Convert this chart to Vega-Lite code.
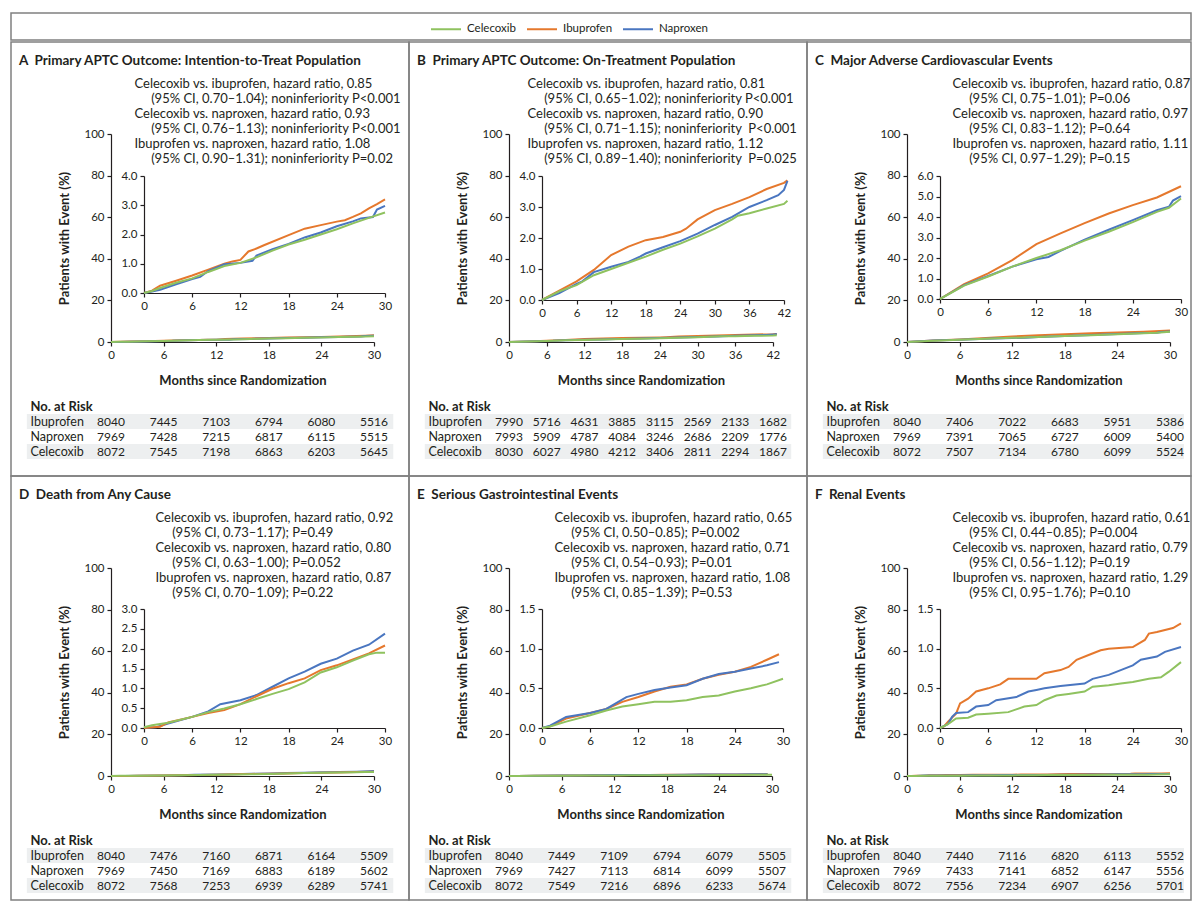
{
"$schema": "https://vega.github.io/schema/vega-lite/v6.json",
"padding": {"left": 10, "top": 12, "right": 0, "bottom": 0},
"background": "white",
"datasets": {
"curves": [
{"panel":"A","drug":"Ibuprofen","month":0,"pct":0},{"panel":"A","drug":"Ibuprofen","month":1,"pct":0.08},{"panel":"A","drug":"Ibuprofen","month":2,"pct":0.25},{"panel":"A","drug":"Ibuprofen","month":4,"pct":0.42},{"panel":"A","drug":"Ibuprofen","month":6,"pct":0.6},{"panel":"A","drug":"Ibuprofen","month":8,"pct":0.8},{"panel":"A","drug":"Ibuprofen","month":10,"pct":1.0},{"panel":"A","drug":"Ibuprofen","month":11,"pct":1.08},{"panel":"A","drug":"Ibuprofen","month":12,"pct":1.13},{"panel":"A","drug":"Ibuprofen","month":13,"pct":1.42},{"panel":"A","drug":"Ibuprofen","month":14,"pct":1.52},{"panel":"A","drug":"Ibuprofen","month":15,"pct":1.64},{"panel":"A","drug":"Ibuprofen","month":18,"pct":1.98},{"panel":"A","drug":"Ibuprofen","month":20,"pct":2.2},{"panel":"A","drug":"Ibuprofen","month":22,"pct":2.32},{"panel":"A","drug":"Ibuprofen","month":24,"pct":2.44},{"panel":"A","drug":"Ibuprofen","month":25,"pct":2.49},{"panel":"A","drug":"Ibuprofen","month":26,"pct":2.6},{"panel":"A","drug":"Ibuprofen","month":27,"pct":2.72},{"panel":"A","drug":"Ibuprofen","month":28,"pct":2.89},{"panel":"A","drug":"Ibuprofen","month":29,"pct":3.04},{"panel":"A","drug":"Ibuprofen","month":30,"pct":3.2},
{"panel":"A","drug":"Naproxen","month":0,"pct":0},{"panel":"A","drug":"Naproxen","month":1,"pct":0.05},{"panel":"A","drug":"Naproxen","month":2,"pct":0.11},{"panel":"A","drug":"Naproxen","month":4,"pct":0.3},{"panel":"A","drug":"Naproxen","month":6,"pct":0.48},{"panel":"A","drug":"Naproxen","month":7,"pct":0.55},{"panel":"A","drug":"Naproxen","month":8,"pct":0.75},{"panel":"A","drug":"Naproxen","month":10,"pct":0.98},{"panel":"A","drug":"Naproxen","month":12,"pct":1.03},{"panel":"A","drug":"Naproxen","month":13.5,"pct":1.1},{"panel":"A","drug":"Naproxen","month":14,"pct":1.28},{"panel":"A","drug":"Naproxen","month":16,"pct":1.5},{"panel":"A","drug":"Naproxen","month":18,"pct":1.68},{"panel":"A","drug":"Naproxen","month":20,"pct":1.9},{"panel":"A","drug":"Naproxen","month":22,"pct":2.07},{"panel":"A","drug":"Naproxen","month":24,"pct":2.28},{"panel":"A","drug":"Naproxen","month":26,"pct":2.45},{"panel":"A","drug":"Naproxen","month":27,"pct":2.55},{"panel":"A","drug":"Naproxen","month":28.5,"pct":2.6},{"panel":"A","drug":"Naproxen","month":29,"pct":2.85},{"panel":"A","drug":"Naproxen","month":30,"pct":2.98},
{"panel":"A","drug":"Celecoxib","month":0,"pct":0},{"panel":"A","drug":"Celecoxib","month":1,"pct":0.07},{"panel":"A","drug":"Celecoxib","month":2,"pct":0.17},{"panel":"A","drug":"Celecoxib","month":4,"pct":0.35},{"panel":"A","drug":"Celecoxib","month":6,"pct":0.5},{"panel":"A","drug":"Celecoxib","month":8,"pct":0.72},{"panel":"A","drug":"Celecoxib","month":10,"pct":0.92},{"panel":"A","drug":"Celecoxib","month":12,"pct":1.03},{"panel":"A","drug":"Celecoxib","month":14,"pct":1.22},{"panel":"A","drug":"Celecoxib","month":16,"pct":1.45},{"panel":"A","drug":"Celecoxib","month":18,"pct":1.66},{"panel":"A","drug":"Celecoxib","month":20,"pct":1.82},{"panel":"A","drug":"Celecoxib","month":22,"pct":2.0},{"panel":"A","drug":"Celecoxib","month":24,"pct":2.18},{"panel":"A","drug":"Celecoxib","month":26,"pct":2.38},{"panel":"A","drug":"Celecoxib","month":28,"pct":2.57},{"panel":"A","drug":"Celecoxib","month":30,"pct":2.75},
{"panel":"B","drug":"Ibuprofen","month":0,"pct":0},{"panel":"B","drug":"Ibuprofen","month":3,"pct":0.3},{"panel":"B","drug":"Ibuprofen","month":6,"pct":0.6},{"panel":"B","drug":"Ibuprofen","month":9,"pct":0.97},{"panel":"B","drug":"Ibuprofen","month":12,"pct":1.45},{"panel":"B","drug":"Ibuprofen","month":15,"pct":1.72},{"panel":"B","drug":"Ibuprofen","month":18,"pct":1.93},{"panel":"B","drug":"Ibuprofen","month":21,"pct":2.03},{"panel":"B","drug":"Ibuprofen","month":24,"pct":2.2},{"panel":"B","drug":"Ibuprofen","month":25,"pct":2.3},{"panel":"B","drug":"Ibuprofen","month":27,"pct":2.6},{"panel":"B","drug":"Ibuprofen","month":30,"pct":2.9},{"panel":"B","drug":"Ibuprofen","month":33,"pct":3.1},{"panel":"B","drug":"Ibuprofen","month":36,"pct":3.32},{"panel":"B","drug":"Ibuprofen","month":39,"pct":3.58},{"panel":"B","drug":"Ibuprofen","month":42,"pct":3.78},{"panel":"B","drug":"Ibuprofen","month":42.6,"pct":3.86},
{"panel":"B","drug":"Naproxen","month":0,"pct":0},{"panel":"B","drug":"Naproxen","month":3,"pct":0.22},{"panel":"B","drug":"Naproxen","month":6,"pct":0.52},{"panel":"B","drug":"Naproxen","month":7,"pct":0.6},{"panel":"B","drug":"Naproxen","month":9,"pct":0.9},{"panel":"B","drug":"Naproxen","month":12,"pct":1.07},{"panel":"B","drug":"Naproxen","month":15,"pct":1.23},{"panel":"B","drug":"Naproxen","month":17,"pct":1.4},{"panel":"B","drug":"Naproxen","month":18,"pct":1.5},{"panel":"B","drug":"Naproxen","month":21,"pct":1.7},{"panel":"B","drug":"Naproxen","month":24,"pct":1.9},{"panel":"B","drug":"Naproxen","month":27,"pct":2.14},{"panel":"B","drug":"Naproxen","month":30,"pct":2.42},{"panel":"B","drug":"Naproxen","month":33,"pct":2.68},{"panel":"B","drug":"Naproxen","month":36,"pct":3.0},{"panel":"B","drug":"Naproxen","month":39,"pct":3.22},{"panel":"B","drug":"Naproxen","month":41,"pct":3.38},{"panel":"B","drug":"Naproxen","month":42,"pct":3.55},{"panel":"B","drug":"Naproxen","month":42.6,"pct":3.84},
{"panel":"B","drug":"Celecoxib","month":0,"pct":0},{"panel":"B","drug":"Celecoxib","month":3,"pct":0.28},{"panel":"B","drug":"Celecoxib","month":6,"pct":0.48},{"panel":"B","drug":"Celecoxib","month":9,"pct":0.8},{"panel":"B","drug":"Celecoxib","month":12,"pct":1.0},{"panel":"B","drug":"Celecoxib","month":15,"pct":1.2},{"panel":"B","drug":"Celecoxib","month":18,"pct":1.4},{"panel":"B","drug":"Celecoxib","month":21,"pct":1.62},{"panel":"B","drug":"Celecoxib","month":24,"pct":1.82},{"panel":"B","drug":"Celecoxib","month":27,"pct":2.05},{"panel":"B","drug":"Celecoxib","month":30,"pct":2.3},{"panel":"B","drug":"Celecoxib","month":33,"pct":2.6},{"panel":"B","drug":"Celecoxib","month":34,"pct":2.72},{"panel":"B","drug":"Celecoxib","month":36,"pct":2.8},{"panel":"B","drug":"Celecoxib","month":39,"pct":2.95},{"panel":"B","drug":"Celecoxib","month":42,"pct":3.1},{"panel":"B","drug":"Celecoxib","month":42.6,"pct":3.2},
{"panel":"C","drug":"Ibuprofen","month":0,"pct":0},{"panel":"C","drug":"Ibuprofen","month":3,"pct":0.72},{"panel":"C","drug":"Ibuprofen","month":6,"pct":1.25},{"panel":"C","drug":"Ibuprofen","month":9,"pct":1.9},{"panel":"C","drug":"Ibuprofen","month":12,"pct":2.68},{"panel":"C","drug":"Ibuprofen","month":15,"pct":3.2},{"panel":"C","drug":"Ibuprofen","month":18,"pct":3.7},{"panel":"C","drug":"Ibuprofen","month":21,"pct":4.17},{"panel":"C","drug":"Ibuprofen","month":24,"pct":4.58},{"panel":"C","drug":"Ibuprofen","month":27,"pct":4.95},{"panel":"C","drug":"Ibuprofen","month":30,"pct":5.5},
{"panel":"C","drug":"Naproxen","month":0,"pct":0},{"panel":"C","drug":"Naproxen","month":3,"pct":0.68},{"panel":"C","drug":"Naproxen","month":6,"pct":1.12},{"panel":"C","drug":"Naproxen","month":9,"pct":1.58},{"panel":"C","drug":"Naproxen","month":12,"pct":1.94},{"panel":"C","drug":"Naproxen","month":13.5,"pct":2.05},{"panel":"C","drug":"Naproxen","month":15,"pct":2.35},{"panel":"C","drug":"Naproxen","month":18,"pct":2.9},{"panel":"C","drug":"Naproxen","month":21,"pct":3.38},{"panel":"C","drug":"Naproxen","month":24,"pct":3.85},{"panel":"C","drug":"Naproxen","month":27,"pct":4.33},{"panel":"C","drug":"Naproxen","month":28.5,"pct":4.5},{"panel":"C","drug":"Naproxen","month":29,"pct":4.8},{"panel":"C","drug":"Naproxen","month":30,"pct":5.02},
{"panel":"C","drug":"Celecoxib","month":0,"pct":0},{"panel":"C","drug":"Celecoxib","month":3,"pct":0.65},{"panel":"C","drug":"Celecoxib","month":6,"pct":1.1},{"panel":"C","drug":"Celecoxib","month":9,"pct":1.58},{"panel":"C","drug":"Celecoxib","month":12,"pct":2.0},{"panel":"C","drug":"Celecoxib","month":15,"pct":2.38},{"panel":"C","drug":"Celecoxib","month":18,"pct":2.85},{"panel":"C","drug":"Celecoxib","month":21,"pct":3.28},{"panel":"C","drug":"Celecoxib","month":24,"pct":3.75},{"panel":"C","drug":"Celecoxib","month":27,"pct":4.25},{"panel":"C","drug":"Celecoxib","month":28.5,"pct":4.45},{"panel":"C","drug":"Celecoxib","month":30,"pct":4.9},
{"panel":"D","drug":"Naproxen","month":0,"pct":0},{"panel":"D","drug":"Naproxen","month":1.5,"pct":0.02},{"panel":"D","drug":"Naproxen","month":3,"pct":0.11},{"panel":"D","drug":"Naproxen","month":6,"pct":0.28},{"panel":"D","drug":"Naproxen","month":8,"pct":0.42},{"panel":"D","drug":"Naproxen","month":9.5,"pct":0.6},{"panel":"D","drug":"Naproxen","month":12,"pct":0.7},{"panel":"D","drug":"Naproxen","month":14,"pct":0.83},{"panel":"D","drug":"Naproxen","month":16,"pct":1.04},{"panel":"D","drug":"Naproxen","month":18,"pct":1.25},{"panel":"D","drug":"Naproxen","month":20,"pct":1.42},{"panel":"D","drug":"Naproxen","month":22,"pct":1.62},{"panel":"D","drug":"Naproxen","month":24,"pct":1.75},{"panel":"D","drug":"Naproxen","month":26,"pct":1.95},{"panel":"D","drug":"Naproxen","month":28,"pct":2.1},{"panel":"D","drug":"Naproxen","month":30,"pct":2.38},
{"panel":"D","drug":"Ibuprofen","month":0,"pct":0},{"panel":"D","drug":"Ibuprofen","month":2,"pct":0.03},{"panel":"D","drug":"Ibuprofen","month":3,"pct":0.14},{"panel":"D","drug":"Ibuprofen","month":6,"pct":0.28},{"panel":"D","drug":"Ibuprofen","month":8,"pct":0.38},{"panel":"D","drug":"Ibuprofen","month":10,"pct":0.45},{"panel":"D","drug":"Ibuprofen","month":12,"pct":0.6},{"panel":"D","drug":"Ibuprofen","month":14,"pct":0.8},{"panel":"D","drug":"Ibuprofen","month":16,"pct":0.99},{"panel":"D","drug":"Ibuprofen","month":18,"pct":1.13},{"panel":"D","drug":"Ibuprofen","month":20,"pct":1.25},{"panel":"D","drug":"Ibuprofen","month":22,"pct":1.46},{"panel":"D","drug":"Ibuprofen","month":24,"pct":1.58},{"panel":"D","drug":"Ibuprofen","month":26,"pct":1.73},{"panel":"D","drug":"Ibuprofen","month":28,"pct":1.88},{"panel":"D","drug":"Ibuprofen","month":30,"pct":2.08},
{"panel":"D","drug":"Celecoxib","month":0,"pct":0.02},{"panel":"D","drug":"Celecoxib","month":1,"pct":0.07},{"panel":"D","drug":"Celecoxib","month":3,"pct":0.13},{"panel":"D","drug":"Celecoxib","month":6,"pct":0.28},{"panel":"D","drug":"Celecoxib","month":8,"pct":0.4},{"panel":"D","drug":"Celecoxib","month":10,"pct":0.49},{"panel":"D","drug":"Celecoxib","month":12,"pct":0.6},{"panel":"D","drug":"Celecoxib","month":14,"pct":0.73},{"panel":"D","drug":"Celecoxib","month":16,"pct":0.86},{"panel":"D","drug":"Celecoxib","month":18,"pct":0.98},{"panel":"D","drug":"Celecoxib","month":20,"pct":1.15},{"panel":"D","drug":"Celecoxib","month":22,"pct":1.4},{"panel":"D","drug":"Celecoxib","month":24,"pct":1.53},{"panel":"D","drug":"Celecoxib","month":26,"pct":1.7},{"panel":"D","drug":"Celecoxib","month":28,"pct":1.86},{"panel":"D","drug":"Celecoxib","month":29,"pct":1.9},{"panel":"D","drug":"Celecoxib","month":30,"pct":1.9},
{"panel":"E","drug":"Ibuprofen","month":0,"pct":0},{"panel":"E","drug":"Ibuprofen","month":1,"pct":0.02},{"panel":"E","drug":"Ibuprofen","month":3,"pct":0.12},{"panel":"E","drug":"Ibuprofen","month":6,"pct":0.19},{"panel":"E","drug":"Ibuprofen","month":8,"pct":0.24},{"panel":"E","drug":"Ibuprofen","month":10,"pct":0.33},{"panel":"E","drug":"Ibuprofen","month":12,"pct":0.39},{"panel":"E","drug":"Ibuprofen","month":14,"pct":0.46},{"panel":"E","drug":"Ibuprofen","month":16,"pct":0.52},{"panel":"E","drug":"Ibuprofen","month":18,"pct":0.55},{"panel":"E","drug":"Ibuprofen","month":20,"pct":0.62},{"panel":"E","drug":"Ibuprofen","month":22,"pct":0.67},{"panel":"E","drug":"Ibuprofen","month":24,"pct":0.71},{"panel":"E","drug":"Ibuprofen","month":26,"pct":0.77},{"panel":"E","drug":"Ibuprofen","month":28,"pct":0.86},{"panel":"E","drug":"Ibuprofen","month":29.5,"pct":0.93},
{"panel":"E","drug":"Naproxen","month":0,"pct":0},{"panel":"E","drug":"Naproxen","month":1,"pct":0.03},{"panel":"E","drug":"Naproxen","month":3,"pct":0.14},{"panel":"E","drug":"Naproxen","month":6,"pct":0.19},{"panel":"E","drug":"Naproxen","month":8,"pct":0.24},{"panel":"E","drug":"Naproxen","month":9.5,"pct":0.33},{"panel":"E","drug":"Naproxen","month":10.5,"pct":0.39},{"panel":"E","drug":"Naproxen","month":12,"pct":0.43},{"panel":"E","drug":"Naproxen","month":14,"pct":0.48},{"panel":"E","drug":"Naproxen","month":16,"pct":0.51},{"panel":"E","drug":"Naproxen","month":18,"pct":0.54},{"panel":"E","drug":"Naproxen","month":20,"pct":0.62},{"panel":"E","drug":"Naproxen","month":22,"pct":0.68},{"panel":"E","drug":"Naproxen","month":24,"pct":0.71},{"panel":"E","drug":"Naproxen","month":26,"pct":0.75},{"panel":"E","drug":"Naproxen","month":28,"pct":0.79},{"panel":"E","drug":"Naproxen","month":29.5,"pct":0.83},
{"panel":"E","drug":"Celecoxib","month":0,"pct":0},{"panel":"E","drug":"Celecoxib","month":1,"pct":0.02},{"panel":"E","drug":"Celecoxib","month":3,"pct":0.08},{"panel":"E","drug":"Celecoxib","month":6,"pct":0.16},{"panel":"E","drug":"Celecoxib","month":8,"pct":0.22},{"panel":"E","drug":"Celecoxib","month":10,"pct":0.27},{"panel":"E","drug":"Celecoxib","month":12,"pct":0.3},{"panel":"E","drug":"Celecoxib","month":14,"pct":0.33},{"panel":"E","drug":"Celecoxib","month":16,"pct":0.33},{"panel":"E","drug":"Celecoxib","month":18,"pct":0.35},{"panel":"E","drug":"Celecoxib","month":20,"pct":0.39},{"panel":"E","drug":"Celecoxib","month":22,"pct":0.41},{"panel":"E","drug":"Celecoxib","month":24,"pct":0.46},{"panel":"E","drug":"Celecoxib","month":26,"pct":0.5},{"panel":"E","drug":"Celecoxib","month":28,"pct":0.55},{"panel":"E","drug":"Celecoxib","month":30,"pct":0.62},
{"panel":"F","drug":"Ibuprofen","month":0,"pct":0},{"panel":"F","drug":"Ibuprofen","month":0.5,"pct":0.02},{"panel":"F","drug":"Ibuprofen","month":1,"pct":0.08},{"panel":"F","drug":"Ibuprofen","month":2,"pct":0.18},{"panel":"F","drug":"Ibuprofen","month":2.5,"pct":0.31},{"panel":"F","drug":"Ibuprofen","month":3.5,"pct":0.37},{"panel":"F","drug":"Ibuprofen","month":4.5,"pct":0.46},{"panel":"F","drug":"Ibuprofen","month":6,"pct":0.5},{"panel":"F","drug":"Ibuprofen","month":7.5,"pct":0.55},{"panel":"F","drug":"Ibuprofen","month":8.5,"pct":0.62},{"panel":"F","drug":"Ibuprofen","month":12,"pct":0.62},{"panel":"F","drug":"Ibuprofen","month":13,"pct":0.69},{"panel":"F","drug":"Ibuprofen","month":15,"pct":0.73},{"panel":"F","drug":"Ibuprofen","month":16,"pct":0.77},{"panel":"F","drug":"Ibuprofen","month":17,"pct":0.86},{"panel":"F","drug":"Ibuprofen","month":18.5,"pct":0.92},{"panel":"F","drug":"Ibuprofen","month":20,"pct":0.98},{"panel":"F","drug":"Ibuprofen","month":21,"pct":1.0},{"panel":"F","drug":"Ibuprofen","month":24,"pct":1.02},{"panel":"F","drug":"Ibuprofen","month":25.5,"pct":1.11},{"panel":"F","drug":"Ibuprofen","month":26,"pct":1.19},{"panel":"F","drug":"Ibuprofen","month":27,"pct":1.21},{"panel":"F","drug":"Ibuprofen","month":29,"pct":1.26},{"panel":"F","drug":"Ibuprofen","month":30,"pct":1.32},
{"panel":"F","drug":"Naproxen","month":0,"pct":0},{"panel":"F","drug":"Naproxen","month":1,"pct":0.05},{"panel":"F","drug":"Naproxen","month":1.5,"pct":0.14},{"panel":"F","drug":"Naproxen","month":2,"pct":0.19},{"panel":"F","drug":"Naproxen","month":3.5,"pct":0.2},{"panel":"F","drug":"Naproxen","month":4.5,"pct":0.27},{"panel":"F","drug":"Naproxen","month":6,"pct":0.29},{"panel":"F","drug":"Naproxen","month":7,"pct":0.35},{"panel":"F","drug":"Naproxen","month":9.5,"pct":0.39},{"panel":"F","drug":"Naproxen","month":11,"pct":0.46},{"panel":"F","drug":"Naproxen","month":12,"pct":0.48},{"panel":"F","drug":"Naproxen","month":13,"pct":0.5},{"panel":"F","drug":"Naproxen","month":15,"pct":0.53},{"panel":"F","drug":"Naproxen","month":18,"pct":0.56},{"panel":"F","drug":"Naproxen","month":19,"pct":0.62},{"panel":"F","drug":"Naproxen","month":21,"pct":0.67},{"panel":"F","drug":"Naproxen","month":22.5,"pct":0.73},{"panel":"F","drug":"Naproxen","month":24,"pct":0.79},{"panel":"F","drug":"Naproxen","month":25,"pct":0.86},{"panel":"F","drug":"Naproxen","month":27,"pct":0.9},{"panel":"F","drug":"Naproxen","month":28,"pct":0.96},{"panel":"F","drug":"Naproxen","month":30,"pct":1.02},
{"panel":"F","drug":"Celecoxib","month":0,"pct":0},{"panel":"F","drug":"Celecoxib","month":1,"pct":0.05},{"panel":"F","drug":"Celecoxib","month":2,"pct":0.12},{"panel":"F","drug":"Celecoxib","month":3.5,"pct":0.13},{"panel":"F","drug":"Celecoxib","month":4.5,"pct":0.17},{"panel":"F","drug":"Celecoxib","month":6,"pct":0.18},{"panel":"F","drug":"Celecoxib","month":8.5,"pct":0.2},{"panel":"F","drug":"Celecoxib","month":10.5,"pct":0.27},{"panel":"F","drug":"Celecoxib","month":12,"pct":0.29},{"panel":"F","drug":"Celecoxib","month":13,"pct":0.35},{"panel":"F","drug":"Celecoxib","month":14.5,"pct":0.41},{"panel":"F","drug":"Celecoxib","month":16,"pct":0.43},{"panel":"F","drug":"Celecoxib","month":18,"pct":0.46},{"panel":"F","drug":"Celecoxib","month":19,"pct":0.52},{"panel":"F","drug":"Celecoxib","month":21,"pct":0.54},{"panel":"F","drug":"Celecoxib","month":22.5,"pct":0.56},{"panel":"F","drug":"Celecoxib","month":24,"pct":0.58},{"panel":"F","drug":"Celecoxib","month":26,"pct":0.62},{"panel":"F","drug":"Celecoxib","month":27.5,"pct":0.64},{"panel":"F","drug":"Celecoxib","month":28.5,"pct":0.71},{"panel":"F","drug":"Celecoxib","month":30,"pct":0.83}
],
"risk": [
{"panel":"A","drug":"Ibuprofen","month":0,"n":8040},{"panel":"A","drug":"Ibuprofen","month":6,"n":7445},{"panel":"A","drug":"Ibuprofen","month":12,"n":7103},{"panel":"A","drug":"Ibuprofen","month":18,"n":6794},{"panel":"A","drug":"Ibuprofen","month":24,"n":6080},{"panel":"A","drug":"Ibuprofen","month":30,"n":5516},
{"panel":"A","drug":"Naproxen","month":0,"n":7969},{"panel":"A","drug":"Naproxen","month":6,"n":7428},{"panel":"A","drug":"Naproxen","month":12,"n":7215},{"panel":"A","drug":"Naproxen","month":18,"n":6817},{"panel":"A","drug":"Naproxen","month":24,"n":6115},{"panel":"A","drug":"Naproxen","month":30,"n":5515},
{"panel":"A","drug":"Celecoxib","month":0,"n":8072},{"panel":"A","drug":"Celecoxib","month":6,"n":7545},{"panel":"A","drug":"Celecoxib","month":12,"n":7198},{"panel":"A","drug":"Celecoxib","month":18,"n":6863},{"panel":"A","drug":"Celecoxib","month":24,"n":6203},{"panel":"A","drug":"Celecoxib","month":30,"n":5645},
{"panel":"B","drug":"Ibuprofen","month":0,"n":7990},{"panel":"B","drug":"Ibuprofen","month":6,"n":5716},{"panel":"B","drug":"Ibuprofen","month":12,"n":4631},{"panel":"B","drug":"Ibuprofen","month":18,"n":3885},{"panel":"B","drug":"Ibuprofen","month":24,"n":3115},{"panel":"B","drug":"Ibuprofen","month":30,"n":2569},{"panel":"B","drug":"Ibuprofen","month":36,"n":2133},{"panel":"B","drug":"Ibuprofen","month":42,"n":1682},
{"panel":"B","drug":"Naproxen","month":0,"n":7993},{"panel":"B","drug":"Naproxen","month":6,"n":5909},{"panel":"B","drug":"Naproxen","month":12,"n":4787},{"panel":"B","drug":"Naproxen","month":18,"n":4084},{"panel":"B","drug":"Naproxen","month":24,"n":3246},{"panel":"B","drug":"Naproxen","month":30,"n":2686},{"panel":"B","drug":"Naproxen","month":36,"n":2209},{"panel":"B","drug":"Naproxen","month":42,"n":1776},
{"panel":"B","drug":"Celecoxib","month":0,"n":8030},{"panel":"B","drug":"Celecoxib","month":6,"n":6027},{"panel":"B","drug":"Celecoxib","month":12,"n":4980},{"panel":"B","drug":"Celecoxib","month":18,"n":4212},{"panel":"B","drug":"Celecoxib","month":24,"n":3406},{"panel":"B","drug":"Celecoxib","month":30,"n":2811},{"panel":"B","drug":"Celecoxib","month":36,"n":2294},{"panel":"B","drug":"Celecoxib","month":42,"n":1867},
{"panel":"C","drug":"Ibuprofen","month":0,"n":8040},{"panel":"C","drug":"Ibuprofen","month":6,"n":7406},{"panel":"C","drug":"Ibuprofen","month":12,"n":7022},{"panel":"C","drug":"Ibuprofen","month":18,"n":6683},{"panel":"C","drug":"Ibuprofen","month":24,"n":5951},{"panel":"C","drug":"Ibuprofen","month":30,"n":5386},
{"panel":"C","drug":"Naproxen","month":0,"n":7969},{"panel":"C","drug":"Naproxen","month":6,"n":7391},{"panel":"C","drug":"Naproxen","month":12,"n":7065},{"panel":"C","drug":"Naproxen","month":18,"n":6727},{"panel":"C","drug":"Naproxen","month":24,"n":6009},{"panel":"C","drug":"Naproxen","month":30,"n":5400},
{"panel":"C","drug":"Celecoxib","month":0,"n":8072},{"panel":"C","drug":"Celecoxib","month":6,"n":7507},{"panel":"C","drug":"Celecoxib","month":12,"n":7134},{"panel":"C","drug":"Celecoxib","month":18,"n":6780},{"panel":"C","drug":"Celecoxib","month":24,"n":6099},{"panel":"C","drug":"Celecoxib","month":30,"n":5524},
{"panel":"D","drug":"Ibuprofen","month":0,"n":8040},{"panel":"D","drug":"Ibuprofen","month":6,"n":7476},{"panel":"D","drug":"Ibuprofen","month":12,"n":7160},{"panel":"D","drug":"Ibuprofen","month":18,"n":6871},{"panel":"D","drug":"Ibuprofen","month":24,"n":6164},{"panel":"D","drug":"Ibuprofen","month":30,"n":5509},
{"panel":"D","drug":"Naproxen","month":0,"n":7969},{"panel":"D","drug":"Naproxen","month":6,"n":7450},{"panel":"D","drug":"Naproxen","month":12,"n":7169},{"panel":"D","drug":"Naproxen","month":18,"n":6883},{"panel":"D","drug":"Naproxen","month":24,"n":6189},{"panel":"D","drug":"Naproxen","month":30,"n":5602},
{"panel":"D","drug":"Celecoxib","month":0,"n":8072},{"panel":"D","drug":"Celecoxib","month":6,"n":7568},{"panel":"D","drug":"Celecoxib","month":12,"n":7253},{"panel":"D","drug":"Celecoxib","month":18,"n":6939},{"panel":"D","drug":"Celecoxib","month":24,"n":6289},{"panel":"D","drug":"Celecoxib","month":30,"n":5741},
{"panel":"E","drug":"Ibuprofen","month":0,"n":8040},{"panel":"E","drug":"Ibuprofen","month":6,"n":7449},{"panel":"E","drug":"Ibuprofen","month":12,"n":7109},{"panel":"E","drug":"Ibuprofen","month":18,"n":6794},{"panel":"E","drug":"Ibuprofen","month":24,"n":6079},{"panel":"E","drug":"Ibuprofen","month":30,"n":5505},
{"panel":"E","drug":"Naproxen","month":0,"n":7969},{"panel":"E","drug":"Naproxen","month":6,"n":7427},{"panel":"E","drug":"Naproxen","month":12,"n":7113},{"panel":"E","drug":"Naproxen","month":18,"n":6814},{"panel":"E","drug":"Naproxen","month":24,"n":6099},{"panel":"E","drug":"Naproxen","month":30,"n":5507},
{"panel":"E","drug":"Celecoxib","month":0,"n":8072},{"panel":"E","drug":"Celecoxib","month":6,"n":7549},{"panel":"E","drug":"Celecoxib","month":12,"n":7216},{"panel":"E","drug":"Celecoxib","month":18,"n":6896},{"panel":"E","drug":"Celecoxib","month":24,"n":6233},{"panel":"E","drug":"Celecoxib","month":30,"n":5674},
{"panel":"F","drug":"Ibuprofen","month":0,"n":8040},{"panel":"F","drug":"Ibuprofen","month":6,"n":7440},{"panel":"F","drug":"Ibuprofen","month":12,"n":7116},{"panel":"F","drug":"Ibuprofen","month":18,"n":6820},{"panel":"F","drug":"Ibuprofen","month":24,"n":6113},{"panel":"F","drug":"Ibuprofen","month":30,"n":5552},
{"panel":"F","drug":"Naproxen","month":0,"n":7969},{"panel":"F","drug":"Naproxen","month":6,"n":7433},{"panel":"F","drug":"Naproxen","month":12,"n":7141},{"panel":"F","drug":"Naproxen","month":18,"n":6852},{"panel":"F","drug":"Naproxen","month":24,"n":6147},{"panel":"F","drug":"Naproxen","month":30,"n":5556},
{"panel":"F","drug":"Celecoxib","month":0,"n":8072},{"panel":"F","drug":"Celecoxib","month":6,"n":7556},{"panel":"F","drug":"Celecoxib","month":12,"n":7234},{"panel":"F","drug":"Celecoxib","month":18,"n":6907},{"panel":"F","drug":"Celecoxib","month":24,"n":6256},{"panel":"F","drug":"Celecoxib","month":30,"n":5701}
]
},
"spacing": 0,
"vconcat": [
{"width": 1180, "height": 27, "data": {"values": [{"t": ""}]}, "mark": {"type": "rect", "fill": "white", "stroke": "#808080", "strokeWidth": 1.5}},
{"columns": 3, "spacing": 0, "bounds": "flush", "concat": [
{"width": 398, "height": 434,
 "title": {"text": "A\u00a0\u00a0Primary APTC Outcome: Intention-to-Treat Population"},
 "layer": [
  {"data": {"name": "curves"}, "transform": [{"filter": "datum.panel === 'A'"}], "mark": {"type": "line"},
   "encoding": {
    "x": {"field": "month", "type": "quantitative", "scale": {"domain": [0, 30], "range": [100, 363], "nice": false}, "axis": {"orient": "bottom", "offset": -134, "values": [0, 6, 12, 18, 24, 30], "title": "Months since Randomization", "titleFontSize": 13, "titlePadding": 14}},
    "y": {"field": "pct", "type": "quantitative", "scale": {"domain": [0, 100], "range": [300, 92], "nice": false}, "axis": {"orient": "left", "offset": -100, "values": [0, 20, 40, 60, 80, 100], "title": "Patients with Event (%)", "titleFontSize": 13, "titlePadding": 12}},
    "color": {"field": "drug", "type": "nominal", "scale": {"domain": ["Celecoxib", "Ibuprofen", "Naproxen"], "range": ["#8fc25f", "#e5782d", "#4a76c0"]}, "legend": {"orient": "none", "legendX": 419, "legendY": 0, "direction": "horizontal", "title": null}}}},
  {"data": {"name": "curves"}, "transform": [{"filter": "datum.panel === 'A'"}], "mark": {"type": "line"},
   "encoding": {
    "x": {"field": "month", "type": "quantitative", "scale": {"domain": [0, 30], "range": [133, 374], "nice": false}, "axis": {"orient": "bottom", "offset": -183, "values": [0, 6, 12, 18, 24, 30], "title": null}},
    "y": {"field": "pct", "type": "quantitative", "scale": {"domain": [0, 4], "range": [251, 134], "nice": false}, "axis": {"orient": "left", "offset": -133, "values": [0, 1, 2, 3, 4], "format": ".1f",
      "title": ["Celecoxib vs. ibuprofen, hazard ratio, 0.85", "\u200b\u00a0\u00a0\u00a0\u00a0\u00a0(95% CI, 0.70–1.04); noninferiority P<0.001", "Celecoxib vs. naproxen, hazard ratio, 0.93", "\u200b\u00a0\u00a0\u00a0\u00a0\u00a0(95% CI, 0.76–1.13); noninferiority P<0.001", "Ibuprofen vs. naproxen, hazard ratio, 1.08", "\u200b\u00a0\u00a0\u00a0\u00a0\u00a0(95% CI, 0.90–1.31); noninferiority P=0.02"],
      "titleX": -10, "titleY": 45, "titleAngle": 0, "titleAlign": "left", "titleBaseline": "alphabetic", "titleFontWeight": "normal", "titleFontSize": 13, "titleLineHeight": 15, "titleLimit": 1000}},
    "color": {"field": "drug", "type": "nominal", "scale": {"domain": ["Celecoxib", "Ibuprofen", "Naproxen"], "range": ["#8fc25f", "#e5782d", "#4a76c0"]}, "legend": {"orient": "none", "legendX": 419, "legendY": 0, "direction": "horizontal", "title": null}}}},
  {"data": {"name": "risk"}, "transform": [{"filter": "datum.panel === 'A'"}],
   "encoding": {"y": {"field": "drug", "type": "nominal", "scale": {"type": "band", "domain": ["No. at Risk", "Ibuprofen", "Naproxen", "Celecoxib"], "range": [357, 417], "paddingInner": 0, "paddingOuter": 0}, "axis": {"orient": "left", "offset": -100, "ticks": false, "tickSize": 0, "domain": false, "labelAlign": "left", "labelPadding": 81, "labelFontSize": {"condition": {"test": "datum.value === 'No. at Risk'", "value": 13}, "value": 12.5}, "labelFontWeight": {"condition": {"test": "datum.value === 'No. at Risk'", "value": "bold"}, "value": "normal"}, "title": null}}},
   "layer": [
    {"transform": [{"filter": "datum.drug === 'Ibuprofen' || datum.drug === 'Celecoxib'"}, {"aggregate": [{"op": "count", "as": "k"}], "groupby": ["drug"]}], "mark": {"type": "rect", "color": "#edeff0"}, "encoding": {"x": {"datum": -9.6, "type": "quantitative", "axis": null}, "x2": {"datum": 32.2}}},
    {"mark": {"type": "text", "fontSize": 12}, "encoding": {"x": {"field": "month", "type": "quantitative", "scale": {"domain": [0, 30], "range": [100, 363], "nice": false}, "axis": null}, "text": {"field": "n"}}}
   ]}
 ],
 "resolve": {"scale": {"x": "independent", "y": "independent"}}},
{"width": 398, "height": 434,
 "title": {"text": "B\u00a0\u00a0Primary APTC Outcome: On-Treatment Population"},
 "layer": [
  {"data": {"name": "curves"}, "transform": [{"filter": "datum.panel === 'B'"}], "mark": {"type": "line"},
   "encoding": {
    "x": {"field": "month", "type": "quantitative", "scale": {"domain": [0, 42], "range": [100, 364], "nice": false}, "axis": {"orient": "bottom", "offset": -134, "values": [0, 6, 12, 18, 24, 30, 36, 42], "title": "Months since Randomization", "titleFontSize": 13, "titlePadding": 14}},
    "y": {"field": "pct", "type": "quantitative", "scale": {"domain": [0, 100], "range": [300, 92], "nice": false}, "axis": {"orient": "left", "offset": -100, "values": [0, 20, 40, 60, 80, 100], "title": "Patients with Event (%)", "titleFontSize": 13, "titlePadding": 12}},
    "color": {"field": "drug", "type": "nominal", "scale": {"domain": ["Celecoxib", "Ibuprofen", "Naproxen"], "range": ["#8fc25f", "#e5782d", "#4a76c0"]}, "legend": {"orient": "none", "legendX": 419, "legendY": 0, "direction": "horizontal", "title": null}}}},
  {"data": {"name": "curves"}, "transform": [{"filter": "datum.panel === 'B'"}], "mark": {"type": "line"},
   "encoding": {
    "x": {"field": "month", "type": "quantitative", "scale": {"domain": [0, 42], "range": [133, 375], "nice": false}, "axis": {"orient": "bottom", "offset": -176, "values": [0, 6, 12, 18, 24, 30, 36, 42], "title": null}},
    "y": {"field": "pct", "type": "quantitative", "scale": {"domain": [0, 4], "range": [258, 134], "nice": false}, "axis": {"orient": "left", "offset": -133, "values": [0, 1, 2, 3, 4], "format": ".1f",
      "title": ["Celecoxib vs. ibuprofen, hazard ratio, 0.81", "\u200b\u00a0\u00a0\u00a0\u00a0\u00a0(95% CI, 0.65–1.02); noninferiority P<0.001", "Celecoxib vs. naproxen, hazard ratio, 0.90", "\u200b\u00a0\u00a0\u00a0\u00a0\u00a0(95% CI, 0.71–1.15); noninferiority\u00a0\u00a0P<0.001", "Ibuprofen vs. naproxen, hazard ratio, 1.12", "\u200b\u00a0\u00a0\u00a0\u00a0\u00a0(95% CI, 0.89–1.40); noninferiority\u00a0\u00a0P=0.025"],
      "titleX": -15, "titleY": 45, "titleAngle": 0, "titleAlign": "left", "titleBaseline": "alphabetic", "titleFontWeight": "normal", "titleFontSize": 13, "titleLineHeight": 15, "titleLimit": 1000}},
    "color": {"field": "drug", "type": "nominal", "scale": {"domain": ["Celecoxib", "Ibuprofen", "Naproxen"], "range": ["#8fc25f", "#e5782d", "#4a76c0"]}, "legend": {"orient": "none", "legendX": 419, "legendY": 0, "direction": "horizontal", "title": null}}}},
  {"data": {"name": "risk"}, "transform": [{"filter": "datum.panel === 'B'"}],
   "encoding": {"y": {"field": "drug", "type": "nominal", "scale": {"type": "band", "domain": ["No. at Risk", "Ibuprofen", "Naproxen", "Celecoxib"], "range": [357, 417], "paddingInner": 0, "paddingOuter": 0}, "axis": {"orient": "left", "offset": -100, "ticks": false, "tickSize": 0, "domain": false, "labelAlign": "left", "labelPadding": 81, "labelFontSize": {"condition": {"test": "datum.value === 'No. at Risk'", "value": 13}, "value": 12.5}, "labelFontWeight": {"condition": {"test": "datum.value === 'No. at Risk'", "value": "bold"}, "value": "normal"}, "title": null}}},
   "layer": [
    {"transform": [{"filter": "datum.drug === 'Ibuprofen' || datum.drug === 'Celecoxib'"}, {"aggregate": [{"op": "count", "as": "k"}], "groupby": ["drug"]}], "mark": {"type": "rect", "color": "#edeff0"}, "encoding": {"x": {"datum": -13.4, "type": "quantitative", "axis": null}, "x2": {"datum": 44.9}}},
    {"mark": {"type": "text", "fontSize": 12}, "encoding": {"x": {"field": "month", "type": "quantitative", "scale": {"domain": [0, 42], "range": [100, 364], "nice": false}, "axis": null}, "text": {"field": "n"}}}
   ]}
 ],
 "resolve": {"scale": {"x": "independent", "y": "independent"}}},
{"width": 384, "height": 434,
 "title": {"text": "C\u00a0\u00a0Major Adverse Cardiovascular Events"},
 "layer": [
  {"data": {"name": "curves"}, "transform": [{"filter": "datum.panel === 'C'"}], "mark": {"type": "line"},
   "encoding": {
    "x": {"field": "month", "type": "quantitative", "scale": {"domain": [0, 30], "range": [100, 363], "nice": false}, "axis": {"orient": "bottom", "offset": -134, "values": [0, 6, 12, 18, 24, 30], "title": "Months since Randomization", "titleFontSize": 13, "titlePadding": 14}},
    "y": {"field": "pct", "type": "quantitative", "scale": {"domain": [0, 100], "range": [300, 92], "nice": false}, "axis": {"orient": "left", "offset": -100, "values": [0, 20, 40, 60, 80, 100], "title": "Patients with Event (%)", "titleFontSize": 13, "titlePadding": 12}},
    "color": {"field": "drug", "type": "nominal", "scale": {"domain": ["Celecoxib", "Ibuprofen", "Naproxen"], "range": ["#8fc25f", "#e5782d", "#4a76c0"]}, "legend": {"orient": "none", "legendX": 419, "legendY": 0, "direction": "horizontal", "title": null}}}},
  {"data": {"name": "curves"}, "transform": [{"filter": "datum.panel === 'C'"}], "mark": {"type": "line"},
   "encoding": {
    "x": {"field": "month", "type": "quantitative", "scale": {"domain": [0, 30], "range": [133, 374], "nice": false}, "axis": {"orient": "bottom", "offset": -177, "values": [0, 6, 12, 18, 24, 30], "title": null}},
    "y": {"field": "pct", "type": "quantitative", "scale": {"domain": [0, 6], "range": [257, 134], "nice": false}, "axis": {"orient": "left", "offset": -133, "values": [0, 1, 2, 3, 4, 5, 6], "format": ".1f",
      "title": ["Celecoxib vs. ibuprofen, hazard ratio, 0.87", "\u200b\u00a0\u00a0\u00a0\u00a0\u00a0(95% CI, 0.75–1.01); P=0.06", "Celecoxib vs. naproxen, hazard ratio, 0.97", "\u200b\u00a0\u00a0\u00a0\u00a0\u00a0(95% CI, 0.83–1.12); P=0.64", "Ibuprofen vs. naproxen, hazard ratio, 1.11", "\u200b\u00a0\u00a0\u00a0\u00a0\u00a0(95% CI, 0.97–1.29); P=0.15"],
      "titleX": 12, "titleY": 45, "titleAngle": 0, "titleAlign": "left", "titleBaseline": "alphabetic", "titleFontWeight": "normal", "titleFontSize": 13, "titleLineHeight": 15, "titleLimit": 1000}},
    "color": {"field": "drug", "type": "nominal", "scale": {"domain": ["Celecoxib", "Ibuprofen", "Naproxen"], "range": ["#8fc25f", "#e5782d", "#4a76c0"]}, "legend": {"orient": "none", "legendX": 419, "legendY": 0, "direction": "horizontal", "title": null}}}},
  {"data": {"name": "risk"}, "transform": [{"filter": "datum.panel === 'C'"}],
   "encoding": {"y": {"field": "drug", "type": "nominal", "scale": {"type": "band", "domain": ["No. at Risk", "Ibuprofen", "Naproxen", "Celecoxib"], "range": [357, 417], "paddingInner": 0, "paddingOuter": 0}, "axis": {"orient": "left", "offset": -100, "ticks": false, "tickSize": 0, "domain": false, "labelAlign": "left", "labelPadding": 81, "labelFontSize": {"condition": {"test": "datum.value === 'No. at Risk'", "value": 13}, "value": 12.5}, "labelFontWeight": {"condition": {"test": "datum.value === 'No. at Risk'", "value": "bold"}, "value": "normal"}, "title": null}}},
   "layer": [
    {"transform": [{"filter": "datum.drug === 'Ibuprofen' || datum.drug === 'Celecoxib'"}, {"aggregate": [{"op": "count", "as": "k"}], "groupby": ["drug"]}], "mark": {"type": "rect", "color": "#edeff0"}, "encoding": {"x": {"datum": -9.6, "type": "quantitative", "axis": null}, "x2": {"datum": 31.6}}},
    {"mark": {"type": "text", "fontSize": 12}, "encoding": {"x": {"field": "month", "type": "quantitative", "scale": {"domain": [0, 30], "range": [100, 363], "nice": false}, "axis": null}, "text": {"field": "n"}}}
   ]}
 ],
 "resolve": {"scale": {"x": "independent", "y": "independent"}}},
{"width": 398, "height": 424,
 "title": {"text": "D\u00a0\u00a0Death from Any Cause"},
 "layer": [
  {"data": {"name": "curves"}, "transform": [{"filter": "datum.panel === 'D'"}], "mark": {"type": "line"},
   "encoding": {
    "x": {"field": "month", "type": "quantitative", "scale": {"domain": [0, 30], "range": [100, 363], "nice": false}, "axis": {"orient": "bottom", "offset": -124, "values": [0, 6, 12, 18, 24, 30], "title": "Months since Randomization", "titleFontSize": 13, "titlePadding": 14}},
    "y": {"field": "pct", "type": "quantitative", "scale": {"domain": [0, 100], "range": [300, 92], "nice": false}, "axis": {"orient": "left", "offset": -100, "values": [0, 20, 40, 60, 80, 100], "title": "Patients with Event (%)", "titleFontSize": 13, "titlePadding": 12}},
    "color": {"field": "drug", "type": "nominal", "scale": {"domain": ["Celecoxib", "Ibuprofen", "Naproxen"], "range": ["#8fc25f", "#e5782d", "#4a76c0"]}, "legend": {"orient": "none", "legendX": 419, "legendY": 0, "direction": "horizontal", "title": null}}}},
  {"data": {"name": "curves"}, "transform": [{"filter": "datum.panel === 'D'"}], "mark": {"type": "line"},
   "encoding": {
    "x": {"field": "month", "type": "quantitative", "scale": {"domain": [0, 30], "range": [133, 374], "nice": false}, "axis": {"orient": "bottom", "offset": -172, "values": [0, 6, 12, 18, 24, 30], "title": null}},
    "y": {"field": "pct", "type": "quantitative", "scale": {"domain": [0, 3], "range": [252, 133], "nice": false}, "axis": {"orient": "left", "offset": -133, "values": [0, 0.5, 1, 1.5, 2, 2.5, 3], "format": ".1f",
      "title": ["Celecoxib vs. ibuprofen, hazard ratio, 0.92", "\u200b\u00a0\u00a0\u00a0\u00a0\u00a0(95% CI, 0.73–1.17); P=0.49", "Celecoxib vs. naproxen, hazard ratio, 0.80", "\u200b\u00a0\u00a0\u00a0\u00a0\u00a0(95% CI, 0.63–1.00); P=0.052", "Ibuprofen vs. naproxen, hazard ratio, 0.87", "\u200b\u00a0\u00a0\u00a0\u00a0\u00a0(95% CI, 0.70–1.09); P=0.22"],
      "titleX": 11, "titleY": 45, "titleAngle": 0, "titleAlign": "left", "titleBaseline": "alphabetic", "titleFontWeight": "normal", "titleFontSize": 13, "titleLineHeight": 15, "titleLimit": 1000}},
    "color": {"field": "drug", "type": "nominal", "scale": {"domain": ["Celecoxib", "Ibuprofen", "Naproxen"], "range": ["#8fc25f", "#e5782d", "#4a76c0"]}, "legend": {"orient": "none", "legendX": 419, "legendY": 0, "direction": "horizontal", "title": null}}}},
  {"data": {"name": "risk"}, "transform": [{"filter": "datum.panel === 'D'"}],
   "encoding": {"y": {"field": "drug", "type": "nominal", "scale": {"type": "band", "domain": ["No. at Risk", "Ibuprofen", "Naproxen", "Celecoxib"], "range": [357, 417], "paddingInner": 0, "paddingOuter": 0}, "axis": {"orient": "left", "offset": -100, "ticks": false, "tickSize": 0, "domain": false, "labelAlign": "left", "labelPadding": 81, "labelFontSize": {"condition": {"test": "datum.value === 'No. at Risk'", "value": 13}, "value": 12.5}, "labelFontWeight": {"condition": {"test": "datum.value === 'No. at Risk'", "value": "bold"}, "value": "normal"}, "title": null}}},
   "layer": [
    {"transform": [{"filter": "datum.drug === 'Ibuprofen' || datum.drug === 'Celecoxib'"}, {"aggregate": [{"op": "count", "as": "k"}], "groupby": ["drug"]}], "mark": {"type": "rect", "color": "#edeff0"}, "encoding": {"x": {"datum": -9.6, "type": "quantitative", "axis": null}, "x2": {"datum": 32.2}}},
    {"mark": {"type": "text", "fontSize": 12}, "encoding": {"x": {"field": "month", "type": "quantitative", "scale": {"domain": [0, 30], "range": [100, 363], "nice": false}, "axis": null}, "text": {"field": "n"}}}
   ]}
 ],
 "resolve": {"scale": {"x": "independent", "y": "independent"}}},
{"width": 398, "height": 424,
 "title": {"text": "E\u00a0\u00a0Serious Gastrointestinal Events"},
 "layer": [
  {"data": {"name": "curves"}, "transform": [{"filter": "datum.panel === 'E'"}], "mark": {"type": "line"},
   "encoding": {
    "x": {"field": "month", "type": "quantitative", "scale": {"domain": [0, 30], "range": [100, 363], "nice": false}, "axis": {"orient": "bottom", "offset": -124, "values": [0, 6, 12, 18, 24, 30], "title": "Months since Randomization", "titleFontSize": 13, "titlePadding": 14}},
    "y": {"field": "pct", "type": "quantitative", "scale": {"domain": [0, 100], "range": [300, 92], "nice": false}, "axis": {"orient": "left", "offset": -100, "values": [0, 20, 40, 60, 80, 100], "title": "Patients with Event (%)", "titleFontSize": 13, "titlePadding": 12}},
    "color": {"field": "drug", "type": "nominal", "scale": {"domain": ["Celecoxib", "Ibuprofen", "Naproxen"], "range": ["#8fc25f", "#e5782d", "#4a76c0"]}, "legend": {"orient": "none", "legendX": 419, "legendY": 0, "direction": "horizontal", "title": null}}}},
  {"data": {"name": "curves"}, "transform": [{"filter": "datum.panel === 'E'"}], "mark": {"type": "line"},
   "encoding": {
    "x": {"field": "month", "type": "quantitative", "scale": {"domain": [0, 30], "range": [133, 374], "nice": false}, "axis": {"orient": "bottom", "offset": -172, "values": [0, 6, 12, 18, 24, 30], "title": null}},
    "y": {"field": "pct", "type": "quantitative", "scale": {"domain": [0, 1.5], "range": [252, 133], "nice": false}, "axis": {"orient": "left", "offset": -133, "values": [0, 0.5, 1, 1.5], "format": ".1f",
      "title": ["Celecoxib vs. ibuprofen, hazard ratio, 0.65", "\u200b\u00a0\u00a0\u00a0\u00a0\u00a0(95% CI, 0.50–0.85); P=0.002", "Celecoxib vs. naproxen, hazard ratio, 0.71", "\u200b\u00a0\u00a0\u00a0\u00a0\u00a0(95% CI, 0.54–0.93); P=0.01", "Ibuprofen vs. naproxen, hazard ratio, 1.08", "\u200b\u00a0\u00a0\u00a0\u00a0\u00a0(95% CI, 0.85–1.39); P=0.53"],
      "titleX": 12, "titleY": 45, "titleAngle": 0, "titleAlign": "left", "titleBaseline": "alphabetic", "titleFontWeight": "normal", "titleFontSize": 13, "titleLineHeight": 15, "titleLimit": 1000}},
    "color": {"field": "drug", "type": "nominal", "scale": {"domain": ["Celecoxib", "Ibuprofen", "Naproxen"], "range": ["#8fc25f", "#e5782d", "#4a76c0"]}, "legend": {"orient": "none", "legendX": 419, "legendY": 0, "direction": "horizontal", "title": null}}}},
  {"data": {"name": "risk"}, "transform": [{"filter": "datum.panel === 'E'"}],
   "encoding": {"y": {"field": "drug", "type": "nominal", "scale": {"type": "band", "domain": ["No. at Risk", "Ibuprofen", "Naproxen", "Celecoxib"], "range": [357, 417], "paddingInner": 0, "paddingOuter": 0}, "axis": {"orient": "left", "offset": -100, "ticks": false, "tickSize": 0, "domain": false, "labelAlign": "left", "labelPadding": 81, "labelFontSize": {"condition": {"test": "datum.value === 'No. at Risk'", "value": 13}, "value": 12.5}, "labelFontWeight": {"condition": {"test": "datum.value === 'No. at Risk'", "value": "bold"}, "value": "normal"}, "title": null}}},
   "layer": [
    {"transform": [{"filter": "datum.drug === 'Ibuprofen' || datum.drug === 'Celecoxib'"}, {"aggregate": [{"op": "count", "as": "k"}], "groupby": ["drug"]}], "mark": {"type": "rect", "color": "#edeff0"}, "encoding": {"x": {"datum": -9.6, "type": "quantitative", "axis": null}, "x2": {"datum": 32.2}}},
    {"mark": {"type": "text", "fontSize": 12}, "encoding": {"x": {"field": "month", "type": "quantitative", "scale": {"domain": [0, 30], "range": [100, 363], "nice": false}, "axis": null}, "text": {"field": "n"}}}
   ]}
 ],
 "resolve": {"scale": {"x": "independent", "y": "independent"}}},
{"width": 384, "height": 424,
 "title": {"text": "F\u00a0\u00a0Renal Events"},
 "layer": [
  {"data": {"name": "curves"}, "transform": [{"filter": "datum.panel === 'F'"}], "mark": {"type": "line"},
   "encoding": {
    "x": {"field": "month", "type": "quantitative", "scale": {"domain": [0, 30], "range": [100, 363], "nice": false}, "axis": {"orient": "bottom", "offset": -124, "values": [0, 6, 12, 18, 24, 30], "title": "Months since Randomization", "titleFontSize": 13, "titlePadding": 14}},
    "y": {"field": "pct", "type": "quantitative", "scale": {"domain": [0, 100], "range": [300, 92], "nice": false}, "axis": {"orient": "left", "offset": -100, "values": [0, 20, 40, 60, 80, 100], "title": "Patients with Event (%)", "titleFontSize": 13, "titlePadding": 12}},
    "color": {"field": "drug", "type": "nominal", "scale": {"domain": ["Celecoxib", "Ibuprofen", "Naproxen"], "range": ["#8fc25f", "#e5782d", "#4a76c0"]}, "legend": {"orient": "none", "legendX": 419, "legendY": 0, "direction": "horizontal", "title": null}}}},
  {"data": {"name": "curves"}, "transform": [{"filter": "datum.panel === 'F'"}], "mark": {"type": "line"},
   "encoding": {
    "x": {"field": "month", "type": "quantitative", "scale": {"domain": [0, 30], "range": [133, 374], "nice": false}, "axis": {"orient": "bottom", "offset": -172, "values": [0, 6, 12, 18, 24, 30], "title": null}},
    "y": {"field": "pct", "type": "quantitative", "scale": {"domain": [0, 1.5], "range": [252, 133], "nice": false}, "axis": {"orient": "left", "offset": -133, "values": [0, 0.5, 1, 1.5], "format": ".1f",
      "title": ["Celecoxib vs. ibuprofen, hazard ratio, 0.61", "\u200b\u00a0\u00a0\u00a0\u00a0\u00a0(95% CI, 0.44–0.85); P=0.004", "Celecoxib vs. naproxen, hazard ratio, 0.79", "\u200b\u00a0\u00a0\u00a0\u00a0\u00a0(95% CI, 0.56–1.12); P=0.19", "Ibuprofen vs. naproxen, hazard ratio, 1.29", "\u200b\u00a0\u00a0\u00a0\u00a0\u00a0(95% CI, 0.95–1.76); P=0.10"],
      "titleX": 12, "titleY": 45, "titleAngle": 0, "titleAlign": "left", "titleBaseline": "alphabetic", "titleFontWeight": "normal", "titleFontSize": 13, "titleLineHeight": 15, "titleLimit": 1000}},
    "color": {"field": "drug", "type": "nominal", "scale": {"domain": ["Celecoxib", "Ibuprofen", "Naproxen"], "range": ["#8fc25f", "#e5782d", "#4a76c0"]}, "legend": {"orient": "none", "legendX": 419, "legendY": 0, "direction": "horizontal", "title": null}}}},
  {"data": {"name": "risk"}, "transform": [{"filter": "datum.panel === 'F'"}],
   "encoding": {"y": {"field": "drug", "type": "nominal", "scale": {"type": "band", "domain": ["No. at Risk", "Ibuprofen", "Naproxen", "Celecoxib"], "range": [357, 417], "paddingInner": 0, "paddingOuter": 0}, "axis": {"orient": "left", "offset": -100, "ticks": false, "tickSize": 0, "domain": false, "labelAlign": "left", "labelPadding": 81, "labelFontSize": {"condition": {"test": "datum.value === 'No. at Risk'", "value": 13}, "value": 12.5}, "labelFontWeight": {"condition": {"test": "datum.value === 'No. at Risk'", "value": "bold"}, "value": "normal"}, "title": null}}},
   "layer": [
    {"transform": [{"filter": "datum.drug === 'Ibuprofen' || datum.drug === 'Celecoxib'"}, {"aggregate": [{"op": "count", "as": "k"}], "groupby": ["drug"]}], "mark": {"type": "rect", "color": "#edeff0"}, "encoding": {"x": {"datum": -9.6, "type": "quantitative", "axis": null}, "x2": {"datum": 31.6}}},
    {"mark": {"type": "text", "fontSize": 12}, "encoding": {"x": {"field": "month", "type": "quantitative", "scale": {"domain": [0, 30], "range": [100, 363], "nice": false}, "axis": null}, "text": {"field": "n"}}}
   ]}
 ],
 "resolve": {"scale": {"x": "independent", "y": "independent"}}}
]}
],
"config": {
 "font": "Lato",
 "view": {"stroke": "#808080", "strokeWidth": 1.5},
 "title": {"anchor": "start", "frame": "group", "offset": -25, "dx": 8, "fontSize": 13.5, "fontWeight": "bold", "color": "#231f20"},
 "axis": {"grid": false, "labelFontSize": 11.5, "labelColor": "#231f20", "domainColor": "#231f20", "tickColor": "#231f20", "domainWidth": 1.2, "tickWidth": 1.2, "tickSize": 4, "labelPadding": 3, "labelFlush": false, "labelOverlap": false, "titleColor": "#231f20", "titleFontWeight": "bold"},
 "legend": {"symbolType": "stroke", "symbolSize": 900, "symbolStrokeWidth": 2.5, "labelFontSize": 11.5, "labelColor": "#231f20", "columnPadding": 6, "labelOffset": 5},
 "line": {"strokeWidth": 2},
 "text": {"color": "#231f20"}
}
}
